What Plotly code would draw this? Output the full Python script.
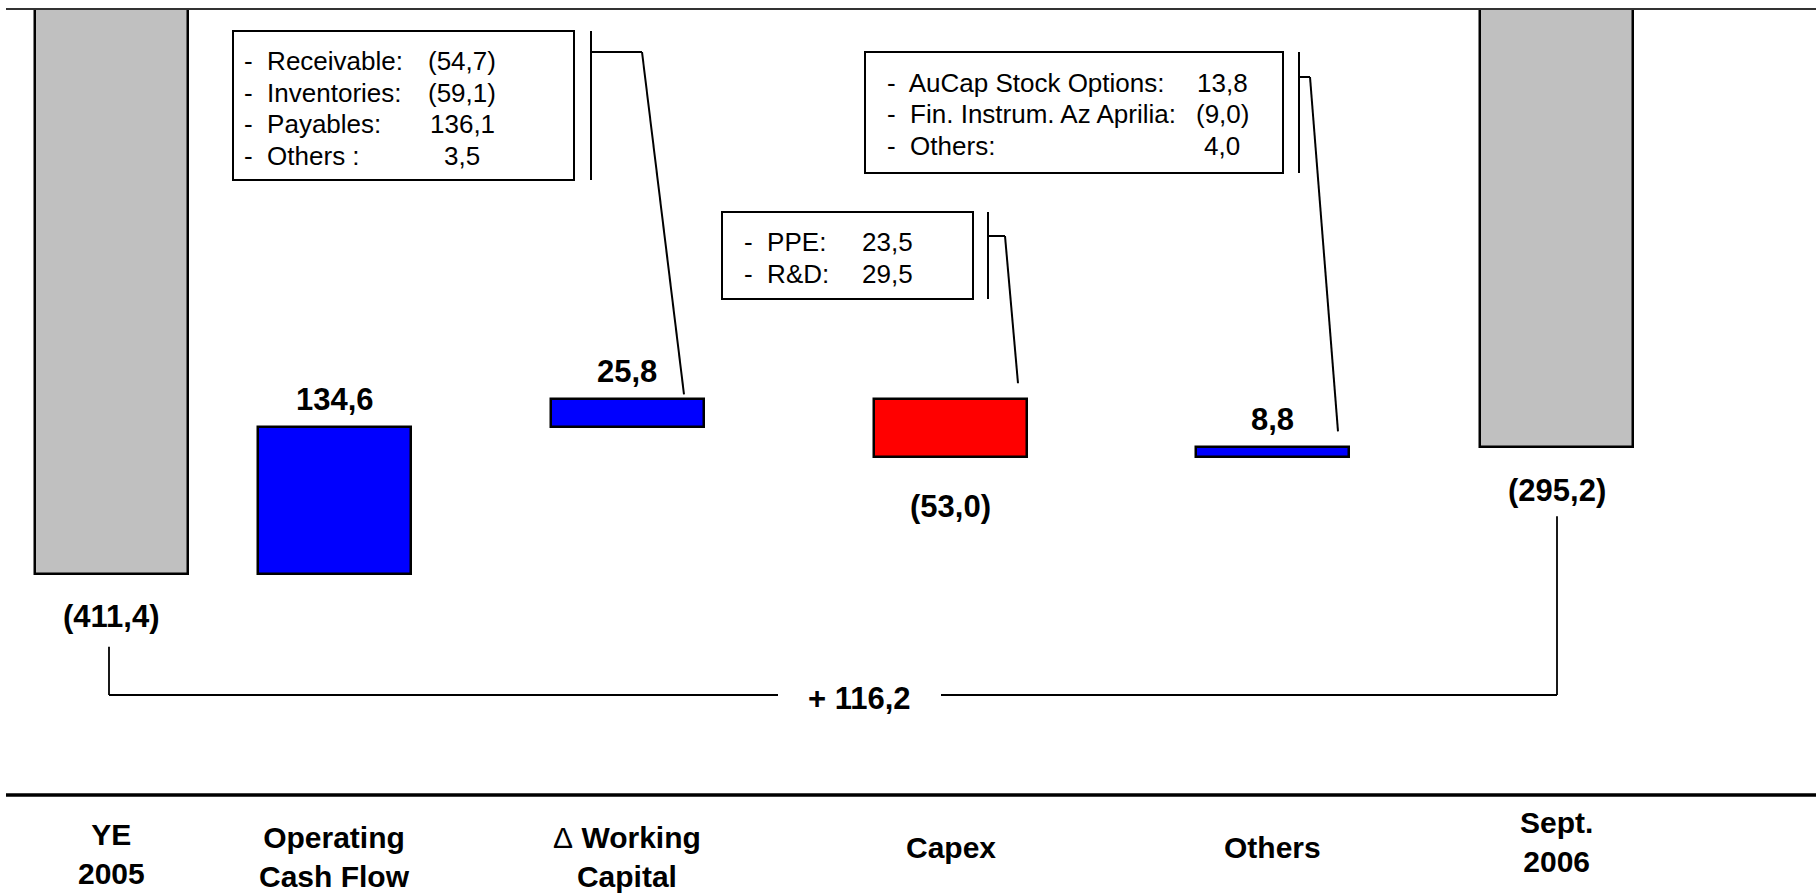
import plotly.graph_objects as go

# ---------------- data ----------------
categories = ["YE<br>2005", "Operating<br>Cash Flow",
              "<span style='font-weight:normal'>Δ</span> Working<br>Capital",
              "Capex", "Others", "Sept.<br>2006"]
measures = ["absolute", "relative", "relative", "relative", "relative", "total"]
values = [-411.4, 134.6, 25.8, -53.0, 8.8, -295.2]

wc_items = ["Receivable:", "Inventories:", "Payables:", "Others :"]
wc_values = [-54.7, -59.1, 136.1, 3.5]
capex_items = ["PPE:", "R&D:"]
capex_values = [23.5, 29.5]
other_items = ["AuCap Stock Options:", "Fin. Instrum. Az Aprilia:", "Others:"]
other_values = [13.8, -9.0, 4.0]

# ---------------- layout constants ----------------
W, H = 1816, 895
PLOT_LEFT, PLOT_TOP, PLOT_BOTTOM = 6, 9, 795
Y_MIN, Y_MAX = -615.0, 108.0
X_POS = [111, 334.5, 627, 950.5, 1272, 1556.5]
BAR_W = 153
LABEL_Y = [854, 857, 857, 847, 847, 842]

FONT = "Liberation Sans, Arial, sans-serif"
GREY, BLUE, RED = "#C0C0C0", "#0000FF", "#FF0000"
INK = "#000000"


def fmt(v):
    s = f"{abs(v):.1f}".replace(".", ",")
    return f"({s})" if v < 0 else s


def y_to_px(v):
    return PLOT_TOP + (Y_MAX - v) / (Y_MAX - Y_MIN) * (PLOT_BOTTOM - PLOT_TOP)


def paper(py):
    return (PLOT_BOTTOM - py) / (PLOT_BOTTOM - PLOT_TOP)


# ---------------- waterfall geometry ----------------
bases, heights, colors = [], [], []
tops, bottoms = [], []
run = 0.0
for m, v in zip(measures, values):
    if m in ("absolute", "total"):
        run = v
        bases.append(v)
        heights.append(Y_MAX - v)
        colors.append(GREY)
        tops.append(Y_MAX)
        bottoms.append(v)
    else:
        bases.append(run)
        heights.append(v)
        colors.append(BLUE if v > 0 else RED)
        tops.append(max(run, run + v))
        bottoms.append(min(run, run + v))
        run += v

fig = go.Figure(go.Bar(
    x=X_POS, y=heights, base=bases, width=BAR_W,
    marker=dict(color=colors, line=dict(color=INK, width=2.5)),
    hoverinfo="skip",
))

annotations = []
shapes = []

# value labels
for i, (m, v) in enumerate(zip(measures, values)):
    if m in ("absolute", "total"):
        y, shift = bottoms[i], -43
    elif v > 0:
        y, shift = tops[i], 28
    else:
        y, shift = bottoms[i], -50
    annotations.append(dict(
        x=X_POS[i], y=y, xref="x", yref="y", yshift=shift,
        text=fmt(v), showarrow=False, xanchor="center", yanchor="middle",
        font=dict(family=FONT, size=31, color=INK, weight="bold")))

# category labels
for i, c in enumerate(categories):
    annotations.append(dict(
        x=X_POS[i], y=paper(LABEL_Y[i]), xref="x", yref="paper",
        text=c, showarrow=False, xanchor="center", yanchor="middle",
        font=dict(family=FONT, size=30, color=INK, weight="bold")))

# frame lines
shapes.append(dict(type="line", xref="paper", yref="paper", x0=0, x1=1, y0=1, y1=1,
                   line=dict(color="#333333", width=2)))
shapes.append(dict(type="line", xref="paper", yref="paper", x0=0, x1=1, y0=0, y1=0,
                   line=dict(color=INK, width=3.5)))


def seg(x0, py0, x1, py1, width=1.8):
    shapes.append(dict(type="line", xref="x", yref="paper",
                       x0=x0, x1=x1, y0=paper(py0), y1=paper(py1),
                       line=dict(color=INK, width=width)))


# overall change bracket
change = values[-1] - values[0]
txt_x, txt_py = 859, 698
left_x, right_x, link_py = 109, 1557, 695
seg(left_x, y_to_px(bottoms[0]) + 73, left_x, link_py)
seg(left_x, link_py, txt_x - 81, link_py)
seg(txt_x + 82, link_py, right_x, link_py)
seg(right_x, link_py, right_x, y_to_px(bottoms[-1]) + 69)
annotations.append(dict(
    x=txt_x, y=paper(txt_py), xref="x", yref="paper",
    text="+ " + fmt(change), showarrow=False, xanchor="center", yanchor="middle",
    font=dict(family=FONT, size=31, color=INK, weight="bold")))


# detail callouts
def callout(items, vals, box, text_x, val_x, rows, bracket, target_i, gap):
    x0, y0, x1, y1 = box
    shapes.append(dict(type="rect", xref="x", yref="paper",
                       x0=x0, x1=x1, y0=paper(y1), y1=paper(y0),
                       line=dict(color=INK, width=2), fillcolor="rgba(0,0,0,0)"))
    for name, v, py in zip(items, vals, rows):
        annotations.append(dict(
            x=text_x, y=paper(py), xref="x", yref="paper", text="-  " + name,
            showarrow=False, xanchor="left", yanchor="middle",
            font=dict(family=FONT, size=26, color=INK)))
        annotations.append(dict(
            x=val_x, y=paper(py), xref="x", yref="paper", text=fmt(v),
            showarrow=False, xanchor="center", yanchor="middle",
            font=dict(family=FONT, size=26, color=INK)))
    bx, by0, by1, hook_py, hook_x, end_x = bracket
    seg(bx, by0, bx, by1, 2)
    seg(bx, hook_py, hook_x, hook_py, 2)
    seg(hook_x, hook_py, end_x, y_to_px(tops[target_i]) - gap, 2)


callout(wc_items, wc_values, (233, 31, 574, 180), 242, 462,
        [61, 93, 124, 156], (591, 31, 180, 52, 642, 684), 2, 5)
callout(capex_items, capex_values, (722, 212, 973, 299), 742, 887,
        [242, 274], (988, 212, 299, 236, 1005, 1018), 3, 16)
callout(other_items, other_values, (865, 52, 1283, 173), 885, 1222,
        [83, 114, 146], (1299, 52, 173, 77, 1310, 1338), 4, 16)

fig.update_layout(
    width=W, height=H,
    margin=dict(l=PLOT_LEFT, r=0, t=PLOT_TOP, b=H - PLOT_BOTTOM, pad=0),
    paper_bgcolor="white", plot_bgcolor="white",
    showlegend=False, bargap=0,
    xaxis=dict(range=[PLOT_LEFT, W], visible=False, fixedrange=True),
    yaxis=dict(range=[Y_MIN, Y_MAX], visible=False, fixedrange=True),
    annotations=annotations, shapes=shapes,
)

fig.write_html("out.html")
